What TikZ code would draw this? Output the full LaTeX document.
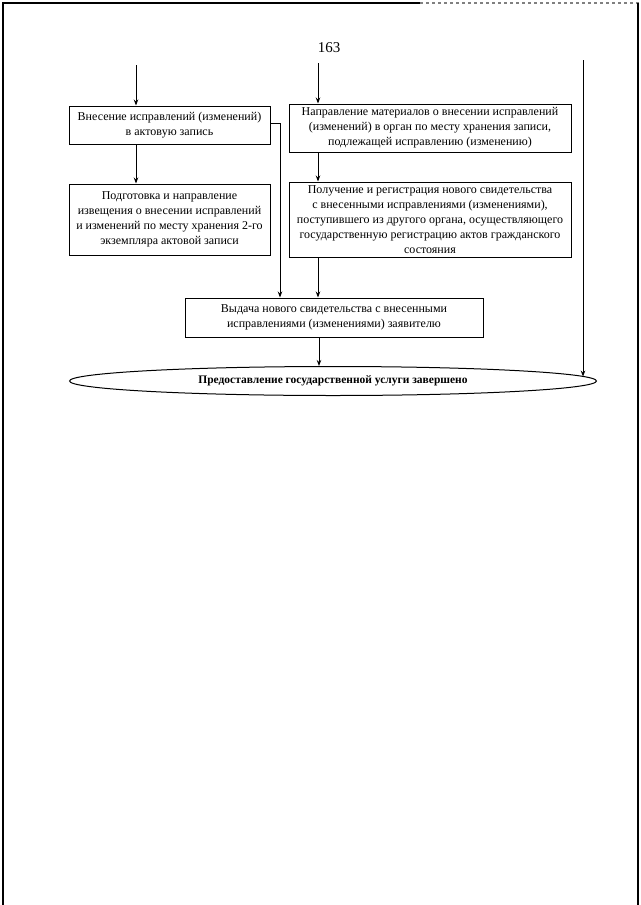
\documentclass[tikz,border=0pt]{standalone}
\usepackage{fontspec}
\setmainfont{Liberation Serif}
\usetikzlibrary{shapes.geometric,arrows.meta}
\tikzset{
  box/.style={draw, line width=1pt, align=center, inner sep=2pt, font=\fontsize{12}{15}\selectfont},
  arr/.style={line width=1pt, -{Stealth[length=6pt,width=4.5pt]}},
  frame/.style={line width=1.4pt}
}
\begin{document}
\begin{tikzpicture}[x=1pt,y=-1pt]
\useasboundingbox (0,0) rectangle (640,905);
% page frame
\draw[frame] (3,905) -- (3,3) -- (420,3);
\draw[frame, gray, dashed] (420,3) -- (640,3);
\draw[frame] (638,3) -- (638,905);
% page number
\node (pg) at (329,48) {\fontsize{15}{18}\selectfont 163};
% boxes
\node[box, minimum width=201pt, minimum height=38pt] (b1) at (169.5,125)
  {Внесение исправлений (изменений)\\в актовую запись};
\node[box, minimum width=282pt, minimum height=48pt] (b2) at (430,128)
  {Направление материалов о внесении исправлений\\(изменений) в орган по месту хранения записи,\\подлежащей исправлению (изменению)};
\node[box, minimum width=201pt, minimum height=71pt] (b3) at (169.5,219.5)
  {Подготовка и направление\\извещения о внесении исправлений\\и изменений по месту хранения 2-го\\экземпляра актовой записи};
\node[box, minimum width=282pt, minimum height=75pt] (b4) at (430,219.5)
  {Получение и регистрация нового свидетельства\\с внесенными исправлениями (изменениями),\\поступившего из другого органа, осуществляющего\\государственную регистрацию актов гражданского\\состояния};
\node[box, minimum width=298pt, minimum height=39pt] (b5) at (334,317.5)
  {Выдача нового свидетельства с внесенными\\исправлениями (изменениями) заявителю};
\node[draw, ellipse, line width=1pt, minimum width=527pt, minimum height=29pt, inner sep=0pt,
  font=\fontsize{11.5}{14}\selectfont\bfseries] (end) at (333,381)
  {Предоставление государственной услуги завершено};
% incoming
\coordinate (inL) at (136,65);
\coordinate (inM) at (318,63);
\coordinate (inR) at (583,60);
\draw[arr] (inL) -- (inL |- b1.north);
\draw[arr] (inM) -- (inM |- b2.north);
\draw[arr] (inR) -- (inR |- end.1);
% internal
\draw[arr] (inL |- b1.south) -- (inL |- b3.north);
\draw[arr] (inM |- b2.south) -- (inM |- b4.north);
\coordinate (k1) at (280,123);
\draw[arr] (b1.east |- k1) -- (k1) -- (k1 |- b5.north);
\draw[arr] (inM |- b4.south) -- (inM |- b5.north);
\coordinate (k2) at (319,0);
\draw[arr] (k2 |- b5.south) -- (k2 |- end.north);
\end{tikzpicture}
\end{document}
